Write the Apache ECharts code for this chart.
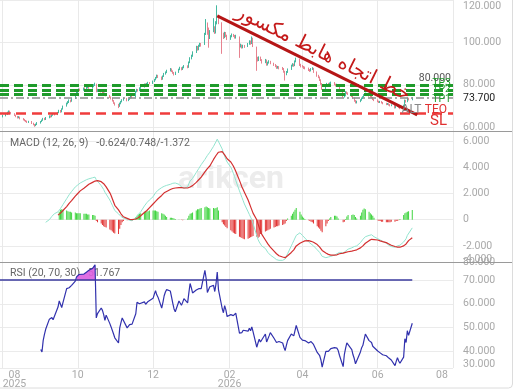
<!DOCTYPE html>
<html>
<head>
<meta charset="utf-8">
<script src="https://cdn.jsdelivr.net/npm/echarts@6/dist/echarts.min.js"></script>
<style>
html,body{margin:0;padding:0;background:#fff;}
#chart{width:520px;height:390px;}
</style>
</head>
<body>
<div id="chart"></div>
<script>
var startDay = '2025-08-01';

// daily candles [open, close, low, high]
var candles = [
  // Aug
  [65.0,65.4,64.6,65.8],[65.4,66.2,65.1,66.5],[66.1,66.9,65.8,67.3],[66.9,67.4,66.5,67.9],[67.5,67.0,66.6,67.8],
  [67.0,66.4,66.0,67.2],[66.3,65.6,65.3,66.6],[65.7,65.0,64.7,65.9],[65.1,64.5,64.1,65.3],[64.4,64.8,64.2,65.2],
  [64.8,64.0,63.7,65.0],[64.1,63.5,63.2,64.3],[63.6,63.1,62.8,63.9],[63.0,62.8,62.4,63.4],[62.9,62.4,62.0,63.1],
  [62.3,62.7,62.0,63.0],[62.6,61.8,61.5,62.9],[61.9,61.2,60.9,62.1],[61.3,60.7,60.2,61.5],[60.8,61.3,60.5,61.7],
  [61.3,62.0,61.0,62.4],
  // Sep
  [62.0,62.6,61.7,62.9],[62.7,63.3,62.4,63.6],[63.3,64.0,63.0,64.4],[64.1,63.6,63.3,64.4],[63.6,64.5,63.4,64.8],
  [64.6,65.2,64.2,65.6],[65.3,64.9,64.5,65.6],[64.9,65.7,64.7,66.0],[65.7,66.2,65.4,66.6],[66.3,65.8,65.5,66.6],
  [65.9,66.9,65.7,67.2],[67.0,67.8,66.6,68.2],[67.9,67.2,66.8,68.1],[67.3,68.6,67.0,68.9],[68.6,69.8,68.3,70.2],
  [70.0,71.2,69.7,71.6],[71.2,71.8,70.8,72.3],[71.8,72.6,71.4,73.1],[72.7,72.2,71.7,73.0],[72.3,73.4,72.0,73.8],
  [73.6,75.4,73.3,75.9],[75.5,76.3,75.0,76.9],
  // Oct
  [76.4,77.2,76.0,77.6],[77.3,77.8,76.9,78.3],[77.9,77.4,77.0,78.2],[77.5,78.3,77.2,78.7],[78.4,78.0,77.6,78.8],
  [78.0,78.6,77.7,79.0],[78.7,79.0,78.3,79.5],[79.1,78.5,78.1,79.4],[78.5,79.2,78.2,79.6],[79.2,79.8,78.9,80.3],
  [79.8,80.4,79.4,81.0],[80.2,77.0,76.5,80.5],[77.0,77.6,76.6,78.1],[77.6,76.8,76.4,77.9],[76.9,76.3,75.9,77.2],
  [76.3,75.6,75.2,76.6],[75.5,75.9,75.1,76.3],[75.9,75.0,74.6,76.1],[75.0,74.2,73.8,75.2],[74.2,73.6,73.1,74.5],
  [73.7,72.5,72.1,73.9],[72.6,71.4,71.0,72.8],[71.5,70.8,70.2,71.7],
  // Nov
  [70.7,69.8,69.0,71.0],[69.9,71.2,69.6,71.6],[71.2,72.0,70.8,72.4],[72.0,72.8,71.7,73.2],[72.9,73.6,72.5,74.0],
  [73.5,72.6,72.2,73.8],[72.6,73.2,72.3,73.6],[73.2,73.8,72.9,74.2],[73.9,74.4,73.5,74.9],[74.5,74.0,73.6,74.8],
  [74.2,76.8,74.0,77.2],[76.9,77.6,76.5,78.1],[77.7,77.2,76.8,78.0],[77.2,78.4,77.0,78.8],[78.5,78.9,78.1,79.4],
  [79.0,80.2,78.7,80.6],[80.3,79.8,79.4,80.7],[79.8,80.5,79.5,80.9],[80.5,80.9,80.1,81.4],[81.0,80.6,80.2,81.3],
  // Dec
  [80.7,81.6,80.4,82.0],[81.6,82.4,81.3,82.8],[82.4,83.2,82.1,83.7],[83.3,84.4,83.0,84.8],[84.4,83.6,83.2,84.7],
  [83.6,82.6,82.2,83.9],[82.7,84.0,82.4,84.4],[84.0,85.2,83.7,85.6],[85.2,85.8,84.8,86.3],[85.9,86.6,85.5,87.1],
  [86.7,87.4,86.3,87.9],[87.4,86.4,86.0,87.7],[86.5,85.6,85.2,86.8],[85.6,84.8,84.4,86.0],[84.9,85.8,84.6,86.2],
  [85.9,87.2,85.6,87.6],[87.2,88.0,86.9,88.5],[88.1,87.2,86.8,88.3],[87.3,88.2,87.0,88.6],[88.2,88.8,87.8,89.3],
  [88.9,88.2,87.8,89.2],[88.3,90.6,88.0,91.0],[90.6,92.4,90.2,93.0],
  // Jan
  [92.5,93.6,92.0,94.2],[93.6,95.2,93.2,95.8],[95.4,97.8,95.0,98.4],[97.9,96.6,96.1,98.3],[96.6,98.4,96.3,98.9],
  [98.5,99.2,97.9,99.8],[99.3,98.6,98.0,99.7],[99.2,103.8,98.8,104.5],[104.0,108.6,103.5,111.0],[108.8,104.2,103.6,109.4],
  [104.3,102.2,97.5,107.0],[102.2,105.0,101.6,105.8],[105.4,106.8,104.8,111.4],[107.0,104.6,104.0,107.6],[104.8,109.2,104.2,110.0],
  [109.4,112.4,108.5,117.5],[112.2,109.4,108.6,113.0],[109.0,103.8,94.6,109.5],[103.9,102.4,101.6,104.6],[102.5,104.4,102.0,105.0],
  [104.4,103.0,102.5,104.9],[103.1,101.6,101.1,103.6],
  // Feb
  [101.7,102.8,101.2,103.4],[102.8,103.6,102.4,104.2],[103.7,103.2,102.6,104.0],[103.2,102.2,101.8,103.5],[102.2,103.0,101.8,103.6],
  [102.6,98.2,92.7,102.8],[98.3,98.8,97.6,99.4],[98.8,97.6,97.1,99.0],[97.6,98.4,97.2,98.9],[98.5,98.0,97.4,98.8],
  [98.1,99.2,97.8,99.7],[99.2,100.4,98.9,101.0],[100.5,99.4,98.9,100.9],[99.5,101.6,99.2,102.8],[101.8,98.6,97.8,102.2],
  [97.8,92.4,86.6,98.0],[92.6,91.6,91.0,93.2],[91.6,92.8,91.2,93.4],[92.8,91.8,91.2,93.3],[91.8,90.6,90.0,92.1],
  // Mar
  [90.7,91.6,90.2,92.2],[91.6,89.4,89.0,91.9],[89.5,90.4,89.1,90.9],[90.4,91.0,90.0,91.6],[91.0,90.2,89.7,91.3],
  [90.1,89.4,88.9,90.4],[89.5,88.8,88.3,89.8],[88.9,88.0,87.5,89.2],[88.0,88.4,87.6,88.9],[88.5,87.8,87.3,88.8],
  [87.9,87.6,87.0,88.4],[87.6,86.2,85.7,87.9],[86.3,84.8,82.0,86.6],[84.9,86.0,84.5,86.5],[86.0,87.2,85.6,87.7],
  [87.4,89.0,87.0,89.5],[89.0,89.6,88.6,90.2],[89.7,89.0,88.5,90.0],[89.1,91.0,88.8,91.5],[91.0,92.2,90.6,92.8],
  [92.1,89.4,88.9,92.3],[89.5,88.8,88.2,89.9],
  // Apr
  [88.9,88.6,88.1,89.3],[88.6,88.0,87.5,88.9],[88.1,87.8,87.3,88.6],[87.8,87.0,86.5,88.1],[87.1,86.6,86.1,87.4],
  [86.6,87.4,86.3,87.9],[87.4,87.8,87.0,88.3],[87.8,86.0,85.6,88.0],[86.0,84.2,83.8,86.3],[84.3,83.6,83.1,84.7],
  [83.6,82.2,81.8,83.9],[82.3,80.4,80.0,82.6],[80.5,78.2,77.6,80.8],[78.3,79.8,78.0,80.3],[79.9,80.4,79.5,80.9],
  [80.5,80.0,79.6,80.9],[80.0,80.6,79.7,81.1],[80.7,81.0,80.3,81.5],[81.0,80.2,79.8,81.3],[80.2,79.6,79.2,80.5],
  [79.6,80.0,79.3,80.5],[80.0,79.4,79.0,80.3],
  // May
  [79.3,77.2,76.8,79.5],[77.0,74.4,74.0,77.3],[74.5,74.8,74.0,75.3],[74.9,76.6,74.6,77.0],[76.6,76.0,75.6,76.9],
  [76.0,75.6,75.2,76.4],[75.5,74.6,74.2,75.8],[74.6,73.8,73.4,74.9],[73.8,72.4,72.0,74.0],[72.5,71.6,71.2,72.8],
  [71.6,72.0,71.2,72.5],[72.1,72.8,71.8,73.2],[72.8,73.6,72.5,74.0],[73.6,74.2,73.3,74.6],[74.3,75.2,74.0,75.6],
  [75.3,75.8,74.9,76.3],[75.7,74.8,74.4,76.0],[74.8,74.4,74.0,75.1],[74.4,74.0,73.6,74.8],[74.0,73.2,72.8,74.3],
  [73.2,72.8,72.3,73.5],
  // Jun
  [72.8,72.2,71.8,73.1],[72.2,71.8,71.4,72.5],[71.8,72.0,71.4,72.4],[72.0,71.6,71.2,72.3],[71.6,71.2,70.8,71.9],
  [71.2,70.9,70.4,71.5],[70.9,71.0,70.5,71.4],[71.0,70.6,70.2,71.3],[70.6,70.2,69.8,70.9],[70.2,70.4,69.9,70.8],
  [70.3,69.2,68.8,70.5],[69.2,69.8,68.9,70.2],[69.8,70.2,69.5,70.6],[70.2,69.4,69.0,70.4],[69.4,69.0,68.5,69.7],
  [69.1,70.2,68.8,70.6],[70.3,72.6,70.0,73.0],[72.6,72.0,71.6,72.9],[72.0,73.6,71.8,74.0],[73.6,73.0,72.6,73.9],
  [73.0,73.7,72.7,74.1]
];

// RSI(20), starts 2025-09-01
var rsiStart = '2025-09-01';
var rsi = [
  40.6,39.6,44.5,47.0,49.2,53.5,53.0,54.2,53.2,52.4,58.6,61.2,59.8,58.4,60.5,66.4,67.2,66.8,66.2,67.8,69.6,71.4,
  71.8,72.4,71.6,72.6,73.0,73.4,73.8,74.2,75.0,75.6,76.5,54.0,55.8,58.2,57.2,55.4,53.0,55.2,51.6,50.2,49.6,47.2,45.6,
  43.4,49.8,52.0,54.0,53.6,49.8,50.4,51.2,52.0,51.4,55.8,60.6,61.4,60.0,59.4,60.8,59.8,60.2,61.0,60.6,
  62.3,64.0,65.6,63.8,62.8,58.2,60.6,63.4,65.0,66.0,65.4,62.8,60.2,57.8,56.6,61.2,60.8,59.4,60.6,62.2,60.4,64.6,68.6,
  66.8,64.6,65.8,65.2,66.4,67.0,66.4,74.2,70.8,64.8,64.4,67.2,67.8,65.2,68.4,73.4,66.0,58.0,56.2,59.2,57.4,54.6,
  55.4,56.2,55.0,54.2,56.0,47.6,48.4,47.8,48.8,48.0,48.4,49.6,48.6,50.2,48.2,41.6,43.4,45.0,43.8,43.2,
  47.2,43.8,44.6,46.4,47.8,45.4,44.8,43.6,43.2,44.0,43.4,41.6,40.2,42.4,44.4,47.2,47.0,46.4,48.6,50.8,45.8,45.0,
  44.6,44.2,44.4,43.4,43.2,44.0,44.6,42.8,39.4,38.6,38.0,36.2,33.2,39.8,40.2,39.8,40.4,41.0,41.4,40.8,41.2,40.2,
  38.2,33.4,38.6,41.2,43.4,42.6,40.6,38.4,36.8,34.6,33.8,39.6,41.4,42.4,44.8,47.2,44.4,44.0,43.6,42.0,41.2,
  40.0,39.4,39.2,38.8,38.4,38.0,37.6,37.0,36.8,36.2,33.8,35.6,37.2,35.8,34.8,37.4,45.2,43.6,48.6,46.6,51.767
];
var rsiHotFrom = '2025-09-30', rsiHotTo = '2025-10-15';

// MACD(12,26,9)
var macdStart = '2025-09-05';
var macdLine = [
  -0.2,0.0,0.1,0.25,0.35,0.45,0.6,0.7,0.85,1.0,1.15,1.6,1.75,1.9,2.0,2.15,2.5,2.6,
  2.65,2.7,2.8,2.95,3.0,3.05,3.1,3.12,3.2,3.22,3.25,3.05,2.9,2.6,2.45,2.3,2.1,1.95,1.5,1.3,1.1,0.9,0.7,
  0.45,0.35,0.25,0.18,0.12,0.05,0.0,-0.05,-0.1,-0.08,0.15,0.3,0.4,0.5,0.6,1.05,1.15,1.3,1.4,1.5,
  1.75,1.9,2.05,2.15,2.25,2.45,2.5,2.55,2.6,2.62,2.7,2.75,2.78,2.8,2.8,2.7,2.6,2.5,2.42,2.4,2.5,2.75,2.95,
  3.05,3.15,3.6,3.75,3.9,4.05,4.2,4.6,4.75,4.9,5.0,5.15,5.6,5.75,5.95,6.15,6.0,5.4,5.1,4.85,4.6,4.4,
  4.0,3.8,3.55,3.3,3.0,2.2,1.95,1.7,1.45,1.2,0.6,0.4,0.2,0.0,-0.3,-1.2,-1.5,-1.7,-1.85,-2.0,
  -2.2,-2.35,-2.5,-2.6,-2.7,-2.9,-3.0,-3.05,-3.1,-3.1,-3.1,-3.05,-3.0,-2.8,-2.6,-2.0,-1.8,-1.6,-1.4,-1.2,-1.0,-1.1,
  -1.2,-1.3,-1.4,-1.7,-1.8,-1.85,-1.9,-2.0,-2.3,-2.4,-2.5,-2.65,-2.8,-2.9,-2.9,-2.85,-2.85,-2.8,-2.7,-2.65,-2.6,-2.55,
  -2.5,-2.55,-2.5,-2.4,-2.3,-2.25,-2.15,-2.1,-2.05,-2.0,-2.0,-1.75,-1.6,-1.5,-1.4,-1.3,-1.2,-1.15,-1.15,-1.2,-1.3,
  -1.45,-1.5,-1.55,-1.6,-1.65,-1.8,-1.85,-1.95,-2.0,-2.05,-2.1,-2.05,-2.0,-2.0,-1.95,-1.7,-1.55,-1.45,-1.2,-1.05,-0.624
];
var signalStart = '2025-09-15';
var signalLine = [
  0.35,0.42,0.5,0.6,0.7,1.0,1.1,1.25,1.35,1.45,1.8,1.9,
  2.0,2.1,2.2,2.4,2.5,2.55,2.65,2.7,2.85,2.9,2.95,3.0,2.98,2.9,2.85,2.75,2.6,2.5,2.05,1.85,1.6,1.35,1.1,
  0.75,0.6,0.45,0.3,0.22,0.1,0.05,0.02,0.0,0.0,0.05,0.1,0.15,0.22,0.3,0.55,0.62,0.7,0.8,0.9,
  1.2,1.3,1.4,1.5,1.6,1.85,1.95,2.05,2.1,2.15,2.3,2.35,2.38,2.4,2.42,2.45,2.45,2.45,2.45,2.42,2.42,2.45,2.5,
  2.55,2.6,2.85,2.95,3.05,3.15,3.25,3.65,3.75,3.9,4.0,4.1,4.6,4.75,4.9,5.05,5.15,5.2,5.1,4.95,4.8,4.65,
  4.4,4.25,4.1,3.9,3.7,3.0,2.75,2.5,2.3,2.1,1.5,1.25,1.0,0.75,0.5,0.0,-0.3,-0.6,-0.85,-1.1,
  -1.55,-1.7,-1.85,-2.0,-2.1,-2.4,-2.5,-2.6,-2.7,-2.75,-2.85,-2.9,-2.9,-2.85,-2.75,-2.5,-2.4,-2.3,-2.15,-2.0,-1.8,-1.75,
  -1.7,-1.65,-1.62,-1.6,-1.62,-1.65,-1.68,-1.72,-1.9,-2.0,-2.1,-2.2,-2.35,-2.55,-2.6,-2.65,-2.68,-2.7,-2.7,-2.7,-2.68,-2.65,
  -2.6,-2.55,-2.55,-2.5,-2.5,-2.45,-2.4,-2.38,-2.35,-2.32,-2.3,-2.15,-2.05,-2.0,-1.9,-1.8,-1.6,-1.55,-1.5,-1.5,-1.52,
  -1.55,-1.6,-1.62,-1.65,-1.68,-1.75,-1.8,-1.85,-1.9,-1.95,-2.05,-2.08,-2.1,-2.1,-2.1,-2.0,-1.95,-1.85,-1.75,-1.6,-1.372
];
var histStart = '2025-09-16';
var histogram = [
  0.6,0.75,0.8,0.75,0.7,0.65,0.6,0.6,0.55,0.55,0.5,
  0.5,0.5,0.5,0.45,0.45,0.45,0.4,0.4,0.35,0.35,0.3,-0.1,-0.2,-0.3,-0.4,-0.5,-0.55,-0.6,-0.75,-0.8,-0.9,-1.0,-1.05,
  -1.1,-0.7,-0.4,-0.2,-0.1,-0.05,-0.03,0.02,0.03,0.05,0.2,0.3,0.4,0.45,0.5,0.6,0.6,0.65,0.65,0.7,
  0.7,0.7,0.7,0.65,0.6,0.5,0.45,0.4,0.3,0.2,0.15,0.15,0.12,0.1,0.05,0.02,0.0,-0.02,-0.05,0.02,0.1,0.3,0.45,
  0.5,0.55,0.7,0.8,0.8,0.85,0.9,0.95,1.0,0.95,0.9,0.85,0.9,0.85,0.9,0.95,0.7,-0.2,-0.35,-0.45,-0.55,-0.65,
  -0.8,-0.9,-1.0,-1.05,-1.1,-1.3,-1.35,-1.4,-1.45,-1.5,-1.45,-1.4,-1.35,-1.3,-1.25,-1.3,-1.4,-1.3,-1.1,-1.0,
  -0.9,-0.85,-0.8,-0.75,-0.7,-0.6,-0.55,-0.5,-0.5,-0.45,-0.4,-0.35,-0.3,-0.1,0.1,0.3,0.45,0.6,0.75,0.9,0.6,0.4,
  0.25,0.15,0.05,-0.05,-0.1,-0.15,-0.2,-0.3,-0.5,-0.6,-0.7,-0.85,-0.95,-0.5,-0.3,-0.1,0.1,0.2,0.3,0.3,0.25,0.1,
  0.0,-0.2,-0.15,0.05,0.25,0.35,0.35,0.4,0.35,0.2,0.1,0.3,0.55,0.75,0.85,0.8,0.6,0.5,0.4,0.3,0.15,
  -0.05,-0.1,-0.1,-0.15,-0.15,-0.2,-0.2,-0.2,-0.2,-0.15,-0.15,-0.1,-0.08,-0.05,0.05,0.35,0.5,0.55,0.6,0.65,0.748
];

// x axis month ticks
var monthTicks = ['2025-08-01','2025-10-01','2025-12-01','2026-02-01','2026-04-01','2026-06-01','2026-08-01'];

// drawn levels
var targetLevels = [79.7, 77.6, 75.7];
var targetNames = ['80.000', 'TP3', 'TP2\nTP1'];
var lastPrice = 73.7;
var stopLoss = 66.4;
var stopNames = ['ALT', 'TEO', 'SL'];
var trendLine = [['2026-01-22', 112.5], ['2026-07-03', 65.8]];
var trendText = 'خط اتجاه هابط مكسور';

function dt(s) { return new Date(s + 'T00:00:00Z').getTime(); }
function tradingDays(start, n) {
  var out = [], d = new Date(start + 'T00:00:00Z');
  while (out.length < n) {
    var w = d.getUTCDay();
    if (w !== 0 && w !== 6) out.push(d.getTime());
    d.setUTCDate(d.getUTCDate() + 1);
  }
  return out;
}
var days = tradingDays(startDay, candles.length);
function withDays(arr, from) {
  var k = days.indexOf(dt(from));
  return arr.map(function(v, i) { return [days[k + i], v]; });
}

var xMin = dt('2025-07-30'), xMax = dt('2026-08-01');
var tickTs = monthTicks.map(dt);
var rsiPts = withDays(rsi, rsiStart);
var rsiHot = rsiPts.filter(function(p) { return p[0] >= dt(rsiHotFrom) && p[0] <= dt(rsiHotTo); });

var font = 'Roboto, sans-serif';
var labelGrey = '#a9a9a9';
var green = '#1f9b2b';

function fmt3(v) { return v === 0 ? '0' : v.toFixed(3); }

function xAxisCfg(idx, showLabel) {
  return {
    type: 'value', gridIndex: idx, min: xMin, max: xMax, scale: true,
    axisLine: {show: false},
    axisTick: {show: false, customValues: tickTs},
    splitLine: {show: true, lineStyle: {color: '#e9e9e9'}},
    axisLabel: {
      show: showLabel, customValues: tickTs, color: labelGrey, fontSize: 10.5, fontFamily: font,
      margin: 3, lineHeight: 9, hideOverlap: false,
      formatter: function(v) {
        var d = new Date(v), m = d.getUTCMonth() + 1, y = d.getUTCFullYear();
        var mm = (m < 10 ? '0' : '') + m;
        if (v === tickTs[0]) return '{l|' + mm + '}\n{l|' + y + '}';
        if (v === tickTs[tickTs.length - 1]) return '{r|' + mm + '}';
        if (m === 2) return mm + '\n' + y;
        return mm;
      },
      rich: {
        l: {padding: [0, 0, 0, 24], color: labelGrey, fontSize: 10.5, lineHeight: 9},
        r: {padding: [0, 22, 0, 0], color: labelGrey, fontSize: 10.5}
      }
    }
  };
}

function yAxisCfg(idx, min, max, split, showMax, maxText) {
  return {
    type: 'value', gridIndex: idx, position: 'right', min: min, max: max, splitNumber: split,
    axisLine: {show: false}, axisTick: {show: false},
    splitLine: {lineStyle: {color: '#ebebeb'}},
    axisLabel: {
      color: labelGrey, fontSize: 10.5, fontFamily: font, margin: 10,
      showMinLabel: false, showMaxLabel: showMax,
      formatter: function(v) {
        if (v === max) return maxText ? maxText : '{t|' + fmt3(v) + '}';
        return fmt3(v);
      },
      rich: {t: {padding: [12, 0, 0, 0], color: labelGrey, fontSize: 10.5}}
    }
  };
}

var levelLines = targetLevels.map(function(v, i) {
  return {
    yAxis: v,
    lineStyle: {color: green, type: [9, 5], width: 3},
    label: {show: true, position: i === 2 ? 'insideEnd' : 'insideEndTop', distance: 2, formatter: targetNames[i],
      lineHeight: 10, color: i === 0 ? '#555' : green, fontSize: 10.5, fontFamily: font}
  };
});
levelLines.push({
  yAxis: lastPrice,
  lineStyle: {color: '#8c8c8c', type: [8, 3, 2, 3], width: 1.5},
  label: {show: true, position: 'end', distance: 10, formatter: lastPrice.toFixed(3), color: '#222', fontSize: 10.5, fontFamily: font}
});
levelLines.push({
  yAxis: stopLoss,
  lineStyle: {color: '#f03c3c', type: [10, 6], width: 2.5},
  label: {show: true, position: 'insideEnd', distance: 6,
    formatter: '{a|' + stopNames[0] + '} {b|' + stopNames[1] + '}\n{s|' + stopNames[2] + '}',
    rich: {
      a: {color: '#888', fontSize: 12, fontFamily: font, lineHeight: 16},
      b: {color: '#e03030', fontSize: 12, fontFamily: font, lineHeight: 16},
      s: {color: '#e03030', fontSize: 15, fontFamily: font, lineHeight: 7, align: 'right'}
    }}
});
levelLines.push([
  {coord: [dt(trendLine[0][0]), trendLine[0][1]],
   lineStyle: {color: '#b51616', width: 3, type: 'solid'},
   label: {show: true, position: 'insideMiddleTop', distance: 3, formatter: trendText,
     color: '#c41a1a', fontSize: 20, fontFamily: 'DejaVu Sans'}},
  {coord: [dt(trendLine[1][0]), trendLine[1][1]]}
]);

var option = {
  animation: false,
  backgroundColor: '#fff',
  grid: [
    {left: 0, right: 67, top: 0, height: 131, outerBoundsMode: 'none'},
    {left: 0, right: 67, top: 131, height: 131, outerBoundsMode: 'none'},
    {left: 0, right: 67, top: 262, height: 106, outerBoundsMode: 'none'}
  ],
  xAxis: [xAxisCfg(0, false), xAxisCfg(1, false), xAxisCfg(2, true)],
  yAxis: [
    yAxisCfg(0, 58.2, 120, 3, true, null),
    yAxisCfg(1, -3.23, 6.77, 5, false, null),
    yAxisCfg(2, 32.8, 77.7, 4, true, '80.000')
  ],
  graphic: [
    {type: 'rect', silent: true, z: 0, shape: {x: -5, y: -5, width: 517.5, height: 393, r: 4},
      style: {fill: 'none', stroke: '#dcdcdc'}},
    {type: 'text', silent: true, z: 0, left: 178, top: 164,
      style: {text: 'arikcen', fill: '#ececec', fontSize: 32, fontWeight: 'bold', fontFamily: font}},
    {type: 'line', silent: true, z: 10, shape: {x1: 0, y1: 131.5, x2: 512, y2: 131.5}, style: {stroke: '#9a9a9a', lineWidth: 1}},
    {type: 'line', silent: true, z: 10, shape: {x1: 0, y1: 262.5, x2: 512, y2: 262.5}, style: {stroke: '#9a9a9a', lineWidth: 1}},
    // edge labels of the lower axes
    {type: 'text', silent: true, z: 1, left: 463, top: 254,
      style: {text: '-4.000', fill: labelGrey, fontSize: 10.5, fontFamily: font}},
    {type: 'text', silent: true, z: 1, left: 463, top: 359,
      style: {text: '30.000', fill: labelGrey, fontSize: 10.5, fontFamily: font}},
    {type: 'text', silent: true, z: 1, left: 10, top: 138,
      style: {text: 'MACD (12, 26, 9)   ' + macdLine[macdLine.length - 1].toFixed(3) + '/' +
        histogram[histogram.length - 1].toFixed(3) + '/' + signalLine[signalLine.length - 1].toFixed(3),
        fill: '#666', fontSize: 10.5, fontFamily: font}},
    {type: 'text', silent: true, z: 1, left: 10, top: 268,
      style: {text: 'RSI (20, 70, 30)   ' + rsi[rsi.length - 1].toFixed(3), fill: '#666', fontSize: 10.5, fontFamily: font}}
  ],
  series: [
    {
      name: 'price', type: 'candlestick', xAxisIndex: 0, yAxisIndex: 0,
      data: candles.map(function(c, i) { return [days[i]].concat(c); }),
      encode: {x: 0, y: [1, 2, 3, 4]},
      barWidth: 1,
      itemStyle: {color: '#45b9a0', color0: '#e7828f', borderColor: '#45b9a0', borderColor0: '#e7828f', borderWidth: 1},
      markLine: {symbol: 'none', silent: true, animation: false, data: levelLines}
    },
    {
      name: 'hist', type: 'bar', xAxisIndex: 1, yAxisIndex: 1, barWidth: 0.8,
      data: withDays(histogram, histStart),
      itemStyle: {color: function(p) { return p.value[1] >= 0 ? '#3fd43f' : '#e23636'; }}
    },
    {
      name: 'macd', type: 'line', xAxisIndex: 1, yAxisIndex: 1, showSymbol: false,
      data: withDays(macdLine, macdStart), lineStyle: {color: '#93e4cf', width: 1}, z: 3
    },
    {
      name: 'signal', type: 'line', xAxisIndex: 1, yAxisIndex: 1, showSymbol: false,
      data: withDays(signalLine, signalStart), lineStyle: {color: '#d32f2f', width: 1.2}, z: 4
    },
    {
      name: 'rsiHot', type: 'line', xAxisIndex: 2, yAxisIndex: 2, showSymbol: false,
      data: rsiHot, lineStyle: {width: 0}, areaStyle: {origin: 70, color: '#dc5fe0', opacity: 0.9}, z: 2
    },
    {
      name: 'rsi', type: 'line', xAxisIndex: 2, yAxisIndex: 2, showSymbol: false,
      data: rsiPts, lineStyle: {color: '#3131ad', width: 1.2}, z: 3,
      markLine: {
        symbol: 'none', silent: true, animation: false, label: {show: false},
        lineStyle: {color: '#3a3a9e', width: 1.5, type: 'solid'},
        data: [[{coord: [xMin, 70]}, {coord: [days[days.length - 1], 70]}]]
      }
    }
  ]
};

var myChart = echarts.init(document.getElementById('chart'));
myChart.setOption(option);
</script>
</body>
</html>
